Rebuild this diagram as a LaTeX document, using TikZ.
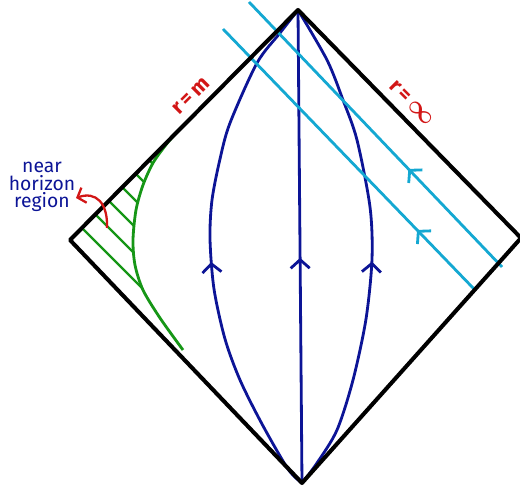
\documentclass[tikz,border=0pt]{standalone}
\usepackage{amsmath,amssymb}
\usepackage{fontspec}
\setsansfont{Fira Sans}
\usepackage{xcolor}
\usepackage{tikz}
\usetikzlibrary{arrows.meta, decorations.markings, positioning}

\definecolor{inkblue}{RGB}{12,20,150}
\definecolor{lightray}{RGB}{20,168,210}
\definecolor{hatchgreen}{RGB}{22,150,22}
\definecolor{labelred}{RGB}{210,22,22}

\begin{document}
\begin{tikzpicture}[
  x=0.02cm, y=0.02cm,
  edge/.style={draw=black, line width=2.3pt, line join=round},
  worldline/.style={draw=inkblue, line width=1.6pt,
                    decoration={markings, mark=at position #1 with
                      {\arrow{Straight Barb[length=1.7mm, width=3.8mm]}}},
                    postaction={decorate}},
  lightray/.style={draw=lightray, line width=1.6pt,
                   decoration={markings, mark=at position #1 with
                     {\arrow{Straight Barb[length=1.7mm, width=3.8mm]}}},
                   postaction={decorate}},
  hatch/.style={draw=hatchgreen, line width=1.3pt},
  edgelabel/.style={text=labelred, font=\sffamily\bfseries\large, inner sep=1pt},
  note/.style={text=inkblue, font=\sffamily\fontsize{11}{10}\selectfont, align=center}
]
  \useasboundingbox (0,0) rectangle (520,489);

  % corners of the diagram
  \coordinate (top)    at (298,479);
  \coordinate (left)   at (70,249);
  \coordinate (bottom) at (302,6);
  \coordinate (right)  at (521,251);

  % hatched near horizon region
  \begin{scope}
    \clip plot[smooth] coordinates {(176,356) (165,343) (153,326) (143,304)
      (136,279) (133,249) (135,224) (143,199) (160,171) (183,139)}
      -- (left) -- cycle;
    \foreach \c in {343,370,397,424,451,478}
      \draw[hatch] (\c-400,400) -- (\c+100,-100);
  \end{scope}
  \draw[hatchgreen, line width=1.6pt] plot[smooth] coordinates {(176,356)
    (165,343) (153,326) (143,304) (136,279) (133,249) (135,224) (143,199)
    (160,171) (183,139)};

  % worldlines from bottom to top
  \draw[worldline=0.47] plot[smooth] coordinates {(302,6) (288,20) (262,65)
    (240,109) (225,150) (214,200) (210,250) (212,289) (220,330) (230,366)
    (257,426) (280,456) (298,479)};
  \draw[worldline=0.476] (bottom) -- (top);
  \draw[worldline=0.47] plot[smooth] coordinates {(302,6) (317,26) (337,59)
    (353,109) (366,170) (372,230) (370,282) (357,349) (343,389) (327,429)
    (298,479)};

  % ingoing light rays
  \coordinate (ray1in)  at (502,222);
  \coordinate (ray1out) at (249,487);
  \coordinate (ray2in)  at (475,199);
  \coordinate (ray2out) at (223,460);
  \draw[lightray=0.37] (ray1in) -- (ray1out);
  \draw[lightray=0.23] (ray2in) -- (ray2out);

  % boundary
  \draw[edge] (top) -- (right) -- (bottom) -- (left) -- cycle;

  % labels
  \node[edgelabel, rotate=45]  (rm)   at (191,393) {r\,=\,m};
  \node[edgelabel, rotate=-45] (rinf) at (412,386) {r\,=\,{\Large$\boldsymbol{\infty}$}};

  \node[note] (nhr) at (42,302) {near\\horizon\\region};
  \coordinate (nhrfoot) at (107,261);
  \draw[labelred, line width=1.3pt, -{Straight Barb[length=1.4mm, width=3.2mm]}]
    (nhrfoot) .. controls (108,286) and (96,298) .. (76,291);
\end{tikzpicture}
\end{document}
